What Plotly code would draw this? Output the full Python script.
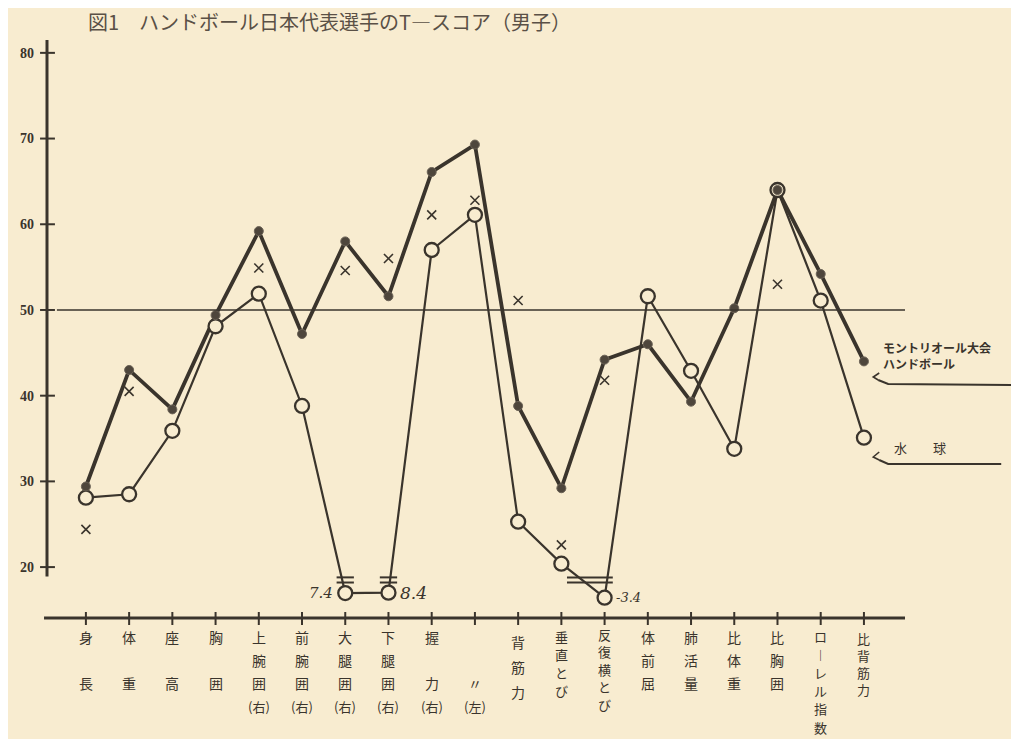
import plotly.graph_objects as go

# ---------------- data ----------------
categories = ["身長", "体重", "座高", "胸囲", "上腕囲(右)", "前腕囲(右)", "大腿囲(右)",
              "下腿囲(右)", "握力(右)", "握力(左)", "背筋力", "垂直とび", "反復横とび",
              "体前屈", "肺活量", "比体重", "比胸囲", "ローレル指数", "比背筋力"]

# vertical (tategaki) tick label text, one entry per line ("" = blank line)
tick_label_lines = [
    ["身", "", "長"], ["体", "", "重"], ["座", "", "高"], ["胸", "", "囲"],
    ["上", "腕", "囲", "(右)"], ["前", "腕", "囲", "(右)"], ["大", "腿", "囲", "(右)"],
    ["下", "腿", "囲", "(右)"], ["握", "", "力", "(右)"], ["", "", "〃", "(左)"],
    ["背", "筋", "力"], ["垂", "直", "と", "び"], ["反", "復", "横", "と", "び"],
    ["体", "前", "屈"], ["肺", "活", "量"], ["比", "体", "重"], ["比", "胸", "囲"],
    ["ロ", "︱", "レ", "ル", "指", "数"], ["比", "背", "筋", "力"],
]

handball = [29.4, 43.0, 38.4, 49.4, 59.2, 47.2, 58.0, 51.6, 66.1, 69.3,
            38.8, 29.2, 44.2, 46.0, 39.3, 50.2, 64.0, 54.2, 44.0]
water_polo = [28.1, 28.5, 35.9, 48.1, 51.9, 38.8, 7.4, 8.4, 57.0, 61.1,
              25.3, 20.4, -3.4, 51.6, 42.9, 33.8, 64.0, 51.1, 35.1]
cross_marks = [24.4, 40.5, None, None, 54.9, None, 54.6, 56.0, 61.1, 62.8,
               51.1, 22.6, 41.8, None, None, None, 53.0, None, None]

y_ticks = [20, 30, 40, 50, 60, 70, 80]
reference_line = 50
title_text = "図1　ハンドボール日本代表選手のT―スコア（男子）"
legend_handball = ["モントリオール大会", "ハンドボール"]
legend_water_polo = "水　　球"

# ---------------- styling ----------------
PAGE_OFFSET = 8          # default body margin of the html page
W, H = 1019 - PAGE_OFFSET, 739 - PAGE_OFFSET
ML, MR, MT, MB = 40 - PAGE_OFFSET, 114, 40 - PAGE_OFFSET, 121
PW, PH = W - ML - MR, H - MT - MB
Y_RANGE = [14.06, 81.5]
X_RANGE = [-0.9, 18.95]
BG = "#f8ecd0"
INK = "#3a342c"
FONT_JP = "Noto Sans CJK JP"
SCALE_FLOOR = 20


def broken_axis(v):
    """values below the scale floor are drawn compressed under the axis break"""
    return v if v >= SCALE_FLOOR else 16.6 + 0.05 * v


def pxx(px):
    """screen pixel x -> paper"""
    return (px - PAGE_OFFSET - ML) / PW


def pxy(py):
    """screen pixel y -> paper"""
    return (H - MB - (py - PAGE_OFFSET)) / PH


idx = list(range(len(categories)))
wp_display = [broken_axis(v) for v in water_polo]

fig = go.Figure()

fig.add_trace(go.Scatter(x=idx, y=wp_display, mode="lines",
                         line=dict(color=INK, width=2.2), hoverinfo="skip", showlegend=False))
fig.add_trace(go.Scatter(x=idx, y=handball, mode="lines",
                         line=dict(color=INK, width=3.8), hoverinfo="skip", showlegend=False))
fig.add_trace(go.Scatter(x=idx, y=wp_display, mode="markers", name="水球",
                         marker=dict(symbol="circle", size=14, color=BG,
                                     line=dict(color=INK, width=2.3)),
                         showlegend=False))
fig.add_trace(go.Scatter(x=idx, y=handball, mode="markers", name="ハンドボール",
                         marker=dict(symbol="circle", size=9, color="#4e463c",
                                     line=dict(color="#6b6256", width=1)),
                         showlegend=False))
fig.add_trace(go.Scatter(x=idx, y=cross_marks, mode="markers", name="×",
                         marker=dict(symbol="x-thin", size=9,
                                     line=dict(color=INK, width=1.6)),
                         showlegend=False))

shapes = []
shapes.append(dict(type="line", xref="paper", yref="y", x0=0, x1=0, y0=Y_RANGE[1], y1=18.9,
                   line=dict(color=INK, width=3)))
for t in y_ticks:
    shapes.append(dict(type="line", xref="paper", yref="y", x0=pxx(33), x1=pxx(48), y0=t, y1=t,
                       line=dict(color=INK, width=2)))
shapes.append(dict(type="line", xref="paper", yref="paper", x0=pxx(37), x1=1, y0=0, y1=0,
                   line=dict(color=INK, width=3.2)))
for i in idx:
    shapes.append(dict(type="line", xref="x", yref="paper", x0=i, x1=i,
                       y0=pxy(625), y1=pxy(612), line=dict(color=INK, width=2)))
shapes.append(dict(type="line", xref="paper", yref="y", x0=pxx(50), x1=1,
                   y0=reference_line, y1=reference_line, line=dict(color=INK, width=1.6)))
break_spans = {6: (-0.2, 0.2), 7: (-0.2, 0.2), 12: (-0.87, 0.19)}
for i, v in enumerate(water_polo):
    if v < SCALE_FLOOR:
        a, b = break_spans.get(i, (-0.2, 0.2))
        for yb in (18.8, 18.2):
            shapes.append(dict(type="line", xref="x", yref="y", x0=i + a, x1=i + b,
                               y0=yb, y1=yb, line=dict(color=INK, width=2)))


def path_px(points):
    return "M " + " L ".join(f"{pxx(px):.5f},{pxy(py):.5f}" for px, py in points)


shapes.append(dict(type="path", xref="paper", yref="paper",
                   path=path_px([(879, 373), (873, 377), (878, 380)]),
                   line=dict(color=INK, width=1.6)))
shapes.append(dict(type="path", xref="paper", yref="paper",
                   path=path_px([(878, 380), (888, 384), (1018, 385)]),
                   line=dict(color=INK, width=2)))
shapes.append(dict(type="path", xref="paper", yref="paper",
                   path=path_px([(879, 452), (873, 457), (879, 460)]),
                   line=dict(color=INK, width=1.6)))
shapes.append(dict(type="path", xref="paper", yref="paper",
                   path=path_px([(879, 460), (888, 464), (1002, 464)]),
                   line=dict(color=INK, width=2)))

annotations = []
annotations.append(dict(text=title_text, xref="paper", yref="paper", x=pxx(79), y=pxy(22),
                        xanchor="left", yanchor="middle", showarrow=False,
                        font=dict(family=FONT_JP, size=20, color="#5a5046")))
label_style = {10: (642, 25, 14), 11: (636, 18, 13), 12: (634, 17.5, 13),
               17: (636, 18.2, 13), 18: (638, 17.3, 13)}
for i, lines in enumerate(tick_label_lines):
    start, step, fs = label_style.get(i, (637, 23, 14))
    for k, ch in enumerate(lines):
        if not ch:
            continue
        size = fs - 1 if ch.startswith("(") else fs
        annotations.append(dict(text=ch, xref="x", yref="paper", x=i, y=pxy(start + k * step),
                                xanchor="center", yanchor="middle", showarrow=False,
                                font=dict(family=FONT_JP, size=size, color=INK)))
off_label_style = {6: ("right", -10, 15), 7: ("left", 10, 17), 12: ("left", 9, 13)}
for i, v in enumerate(water_polo):
    if v < SCALE_FLOOR:
        side, shift, fs = off_label_style.get(i, ("left", 10, 14))
        annotations.append(dict(text=f"{v}", xref="x", yref="y", x=i, y=wp_display[i],
                                xanchor=side, yanchor="middle", xshift=shift, showarrow=False,
                                font=dict(family="DejaVu Serif", size=fs, color=INK,
                                          style="italic")))
for k, txt in enumerate(legend_handball):
    annotations.append(dict(text=txt, xref="paper", yref="paper", x=pxx(881), y=pxy(347 + k * 17),
                            xanchor="left", yanchor="middle", showarrow=False,
                            font=dict(family=FONT_JP, size=12, color=INK, weight="bold")))
annotations.append(dict(text=legend_water_polo, xref="paper", yref="paper", x=pxx(892), y=pxy(447),
                        xanchor="left", yanchor="middle", showarrow=False,
                        font=dict(family=FONT_JP, size=13, color=INK)))

fig.update_layout(
    width=W, height=H,
    margin=dict(l=ML, r=MR, t=MT, b=MB),
    paper_bgcolor=BG, plot_bgcolor=BG,
    showlegend=False,
    shapes=shapes,
    annotations=annotations,
    xaxis=dict(range=X_RANGE, showgrid=False, zeroline=False, showline=False,
               showticklabels=False, ticks=""),
    yaxis=dict(range=Y_RANGE, tickvals=y_ticks, showgrid=False, zeroline=False,
               showline=False, ticks="", ticklabelstandoff=12,
               tickfont=dict(family="Liberation Serif", size=14, color=INK, weight="bold")),
)

fig.write_html("out.html")
